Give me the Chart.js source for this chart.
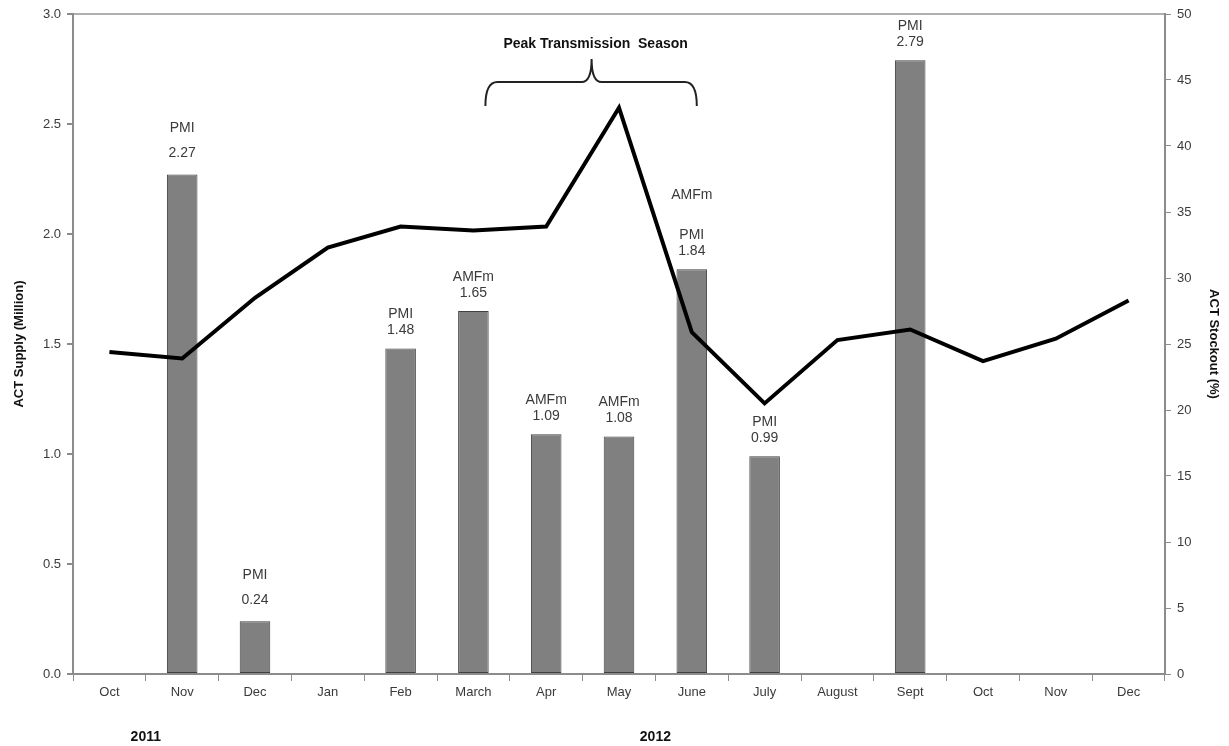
<!DOCTYPE html>
<html>
<head>
<meta charset="utf-8">
<script src="https://cdn.jsdelivr.net/npm/chart.js@4/dist/chart.umd.min.js"></script>
<style>
  html, body { margin: 0; padding: 0; background: #fff; }
  #wrap { width: 1229px; height: 746px; }
</style>
</head>
<body>
<div id="wrap"><canvas id="chart"></canvas></div>
<script>
const months = ['Oct', 'Nov', 'Dec', 'Jan', 'Feb', 'March', 'Apr', 'May', 'June', 'July', 'August', 'Sept', 'Oct', 'Nov', 'Dec'];
const supply = [null, 2.27, 0.24, null, 1.48, 1.65, 1.09, 1.08, 1.84, 0.99, null, 2.79, null, null, null];
const stockout = [24.4, 23.9, 28.5, 32.3, 33.9, 33.6, 33.9, 42.9, 25.9, 20.5, 25.3, 26.1, 23.7, 25.4, 28.3];
const source = ['', 'PMI', 'PMI', '', 'PMI', 'AMFm', 'AMFm', 'AMFm', 'PMI', 'PMI', '', 'PMI', '', '', ''];
const years = [{ text: '2011', at: 0.5 }, { text: '2012', at: 7.5 }];

const font = '"Liberation Sans", Arial, sans-serif';
const axisGrey = '#8c8c8c';
const textCol = '#3a3a3a';

const extras = {
  id: 'extras',
  afterDatasetsDraw(chart) {
    const ctx = chart.ctx;
    const x = chart.scales.x;
    const y = chart.scales.y;
    ctx.save();
    ctx.fillStyle = textCol;
    ctx.textAlign = 'center';
    ctx.textBaseline = 'middle';
    ctx.font = '14px ' + font;

    // notes above the bars
    supply.forEach((v, i) => {
      if (v == null) return;
      const px = x.getPixelForValue(i);
      const top = y.getPixelForValue(v);
      const wide = i === 1 || i === 2;
      const gap = wide ? 25 : 16;
      const first = wide ? 21 : 18;
      ctx.fillText(v.toFixed(2), px, top - first);
      ctx.fillText(source[i], px, top - first - gap);
      if (i === 8) ctx.fillText('AMFm', px, top - first - gap - 40);
    });

    // years under the axis
    ctx.font = 'bold 14px ' + font;
    ctx.fillStyle = '#111';
    years.forEach(yr => {
      const px = (x.getPixelForValue(Math.floor(yr.at)) + x.getPixelForValue(Math.ceil(yr.at))) / 2;
      ctx.fillText(yr.text, px, 737);
    });

    // peak season brace
    const l = x.getPixelForValue(5) + 12;
    const r = x.getPixelForValue(8) + 5;
    const c = (x.getPixelForValue(6) + x.getPixelForValue(7)) / 2 + 9;
    const yb = 106, ym = 82, yt = 59;
    ctx.strokeStyle = '#222';
    ctx.lineWidth = 2;
    ctx.beginPath();
    ctx.moveTo(l, yb);
    ctx.quadraticCurveTo(l, ym, l + 12, ym);
    ctx.lineTo(c - 10, ym);
    ctx.quadraticCurveTo(c, ym, c, yt);
    ctx.quadraticCurveTo(c, ym, c + 10, ym);
    ctx.lineTo(r - 12, ym);
    ctx.quadraticCurveTo(r, ym, r, yb);
    ctx.stroke();
    ctx.fillText('Peak Transmission  Season', c + 4, 44);
    ctx.restore();
  }
};

new Chart(document.getElementById('chart'), {
  type: 'bar',
  data: {
    labels: months,
    datasets: [{
      type: 'line',
      label: 'ACT Stockout (%)',
      data: stockout,
      yAxisID: 'y1',
      borderColor: '#000',
      borderWidth: 4,
      pointRadius: 0,
      tension: 0,
      order: 0
    }, {
      label: 'ACT Supply (Million)',
      data: supply,
      yAxisID: 'y',
      backgroundColor: '#808080',
      borderColor: '#404040',
      borderWidth: 1,
      borderSkipped: false,
      barPercentage: 0.42,
      categoryPercentage: 1,
      order: 1
    }]
  },
  options: {
    responsive: true,
    maintainAspectRatio: false,
    animation: false,
    layout: { padding: { top: 14, left: 0, right: 0, bottom: 0 } },
    plugins: {
      legend: { display: false },
      tooltip: { enabled: false }
    },
    scales: {
      x: {
        offset: true,
        grid: {
          offset: true,
          drawOnChartArea: false,
          tickLength: 7,
          tickColor: axisGrey
        },
        border: { color: axisGrey, width: 2 },
        ticks: { color: textCol, font: { family: font, size: 13 }, padding: 4 },
        afterFit(s) { s.height = 72; }
      },
      y: {
        position: 'left',
        min: 0,
        max: 3,
        grid: {
          color: c => c.tick && c.tick.value === 3 ? '#b0b0b0' : 'transparent',
          lineWidth: 2,
          tickLength: 6,
          tickColor: axisGrey
        },
        border: { color: axisGrey, width: 2 },
        ticks: {
          stepSize: 0.5,
          color: textCol,
          font: { family: font, size: 13 },
          padding: 6,
          callback: v => v.toFixed(1)
        },
        title: {
          display: true,
          text: 'ACT Supply (Million)',
          color: '#111',
          font: { family: font, size: 13, weight: 'bold' },
          padding: { top: 12, bottom: 0 }
        },
        afterFit(s) { s.width = 73; }
      },
      y1: {
        position: 'right',
        min: 0,
        max: 50,
        grid: {
          drawOnChartArea: false,
          tickLength: 6,
          tickColor: axisGrey
        },
        border: { color: axisGrey, width: 2 },
        ticks: {
          stepSize: 5,
          color: textCol,
          font: { family: font, size: 13 },
          padding: 6
        },
        title: {
          display: true,
          text: 'ACT Stockout (%)',
          color: '#111',
          font: { family: font, size: 13, weight: 'bold' },
          padding: { top: 8, bottom: 0 }
        },
        afterFit(s) { s.width = 64; }
      }
    }
  },
  plugins: [extras]
});
</script>
</body>
</html>
